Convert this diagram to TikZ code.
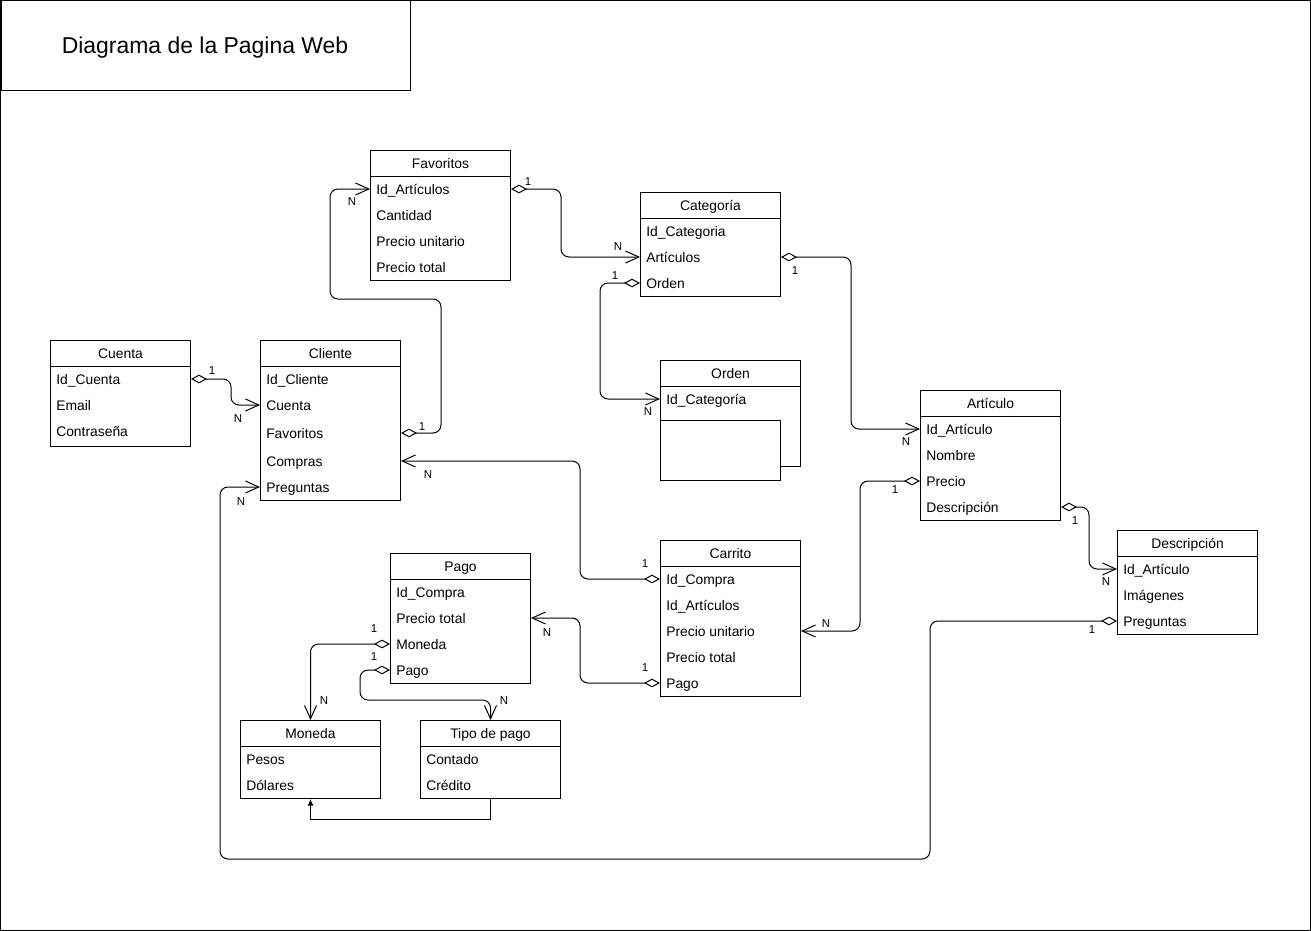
\documentclass[tikz,border=0pt]{standalone}
\usepackage{fontspec}
\setmainfont{Liberation Sans}
\usetikzlibrary{arrows.meta,calc}

% one drawing unit = one pixel of the 1311 x 931 canvas, y grows downwards
\tikzset{
  x=0.75pt, y=-0.75pt,
  ln/.style={line width=0.75pt},
  tbl/.style={ln, draw, fill=white, anchor=north west, inner sep=0pt},
  hdr/.style={font=\fontsize{10.4}{12}\selectfont, inner sep=0pt, text height=8.5pt, text depth=1pt},
  rowtxt/.style={font=\fontsize{10.4}{12}\selectfont, anchor=west, inner sep=0pt, text height=8.5pt, text depth=1pt},
  card/.style={font=\fontsize{8.6}{10}\selectfont, inner sep=0pt, text height=6.7pt, text depth=0.5pt},
  rel/.style={ln, rounded corners=6pt,
    arrows={Diamond[open,length=12pt,width=6.5pt]-Straight Barb[length=10pt,width=9pt]}},
  dep/.style={ln, -{Latex[length=5pt,width=4.5pt]}},
}

% table with a title band: name, x, y, width, height, title
\newcommand\ertab[6]{%
  \node[tbl, minimum width=#4*0.75pt, minimum height=#5*0.75pt] (#1) at (#2,#3) {};
  \draw[ln] ([yshift=-19.5pt]#1.north west) -- ([yshift=-19.5pt]#1.north east);
  \node[hdr] (#1-t) at ([yshift=-9.75pt]#1.north) {#6};
}

\begin{document}
\begin{tikzpicture}
\useasboundingbox (0,0) rectangle (1311,931);
\draw[ln] (0.5,0.5) rectangle (1310.5,930.5);

% title
\node[ln, draw, anchor=north west, minimum width=409.5*0.75pt, minimum height=90*0.75pt, inner sep=0pt] (title) at (0.5,0.5) {};
\node[font=\fontsize{17.2}{20}\selectfont, inner sep=0pt, text height=13pt, text depth=0.7pt] (title-t) at (205,45) {Diagrama de la Pagina Web};

% Favoritos
\ertab{fav}{370}{150}{140}{130}{Favoritos}
\node[rowtxt] (fav-1) at (376,189) {Id\_Artículos};
\node[rowtxt] (fav-2) at (376,215) {Cantidad};
\node[rowtxt] (fav-3) at (376,241) {Precio unitario};
\node[rowtxt] (fav-4) at (376,267) {Precio total};

% Categoría
\ertab{cat}{640}{192}{140}{104}{Categoría}
\node[rowtxt] (cat-1) at (646,231) {Id\_Categoria};
\node[rowtxt] (cat-2) at (646,257) {Artículos};
\node[rowtxt] (cat-3) at (646,283) {Orden};

% Cuenta
\ertab{cue}{50}{340}{140}{106}{Cuenta}
\node[rowtxt] (cue-1) at (56,379) {Id\_Cuenta};
\node[rowtxt] (cue-2) at (56,405) {Email};
\node[rowtxt] (cue-3) at (56,431) {Contraseña};

% Cliente
\ertab{cli}{260}{340}{140}{160}{Cliente}
\node[rowtxt] (cli-1) at (266,379) {Id\_Cliente};
\node[rowtxt] (cli-2) at (266,405) {Cuenta};
\node[rowtxt] (cli-3) at (266,433) {Favoritos};
\node[rowtxt] (cli-4) at (266,461) {Compras};
\node[rowtxt] (cli-5) at (266,487) {Preguntas};

% Orden
\ertab{ord}{660}{360}{140}{106}{Orden}
\node[rowtxt] (ord-1) at (666,399) {Id\_Categoría};
\node[tbl, minimum width=120*0.75pt, minimum height=60*0.75pt] (ordx) at (660,420) {};

% Artículo
\ertab{art}{920}{390}{140}{130}{Artículo}
\node[rowtxt] (art-1) at (926,429) {Id\_Artículo};
\node[rowtxt] (art-2) at (926,455) {Nombre};
\node[rowtxt] (art-3) at (926,481) {Precio};
\node[rowtxt] (art-4) at (926,507) {Descripción};

% Descripción
\ertab{des}{1117}{530}{140}{104}{Descripción}
\node[rowtxt] (des-1) at (1123,569) {Id\_Artículo};
\node[rowtxt] (des-2) at (1123,595) {Imágenes};
\node[rowtxt] (des-3) at (1123,621) {Preguntas};

% Pago
\ertab{pag}{390}{553}{140}{130}{Pago}
\node[rowtxt] (pag-1) at (396,592) {Id\_Compra};
\node[rowtxt] (pag-2) at (396,618) {Precio total};
\node[rowtxt] (pag-3) at (396,644) {Moneda};
\node[rowtxt] (pag-4) at (396,670) {Pago};

% Carrito
\ertab{car}{660}{540}{140}{156}{Carrito}
\node[rowtxt] (car-1) at (666,579) {Id\_Compra};
\node[rowtxt] (car-2) at (666,605) {Id\_Artículos};
\node[rowtxt] (car-3) at (666,631) {Precio unitario};
\node[rowtxt] (car-4) at (666,657) {Precio total};
\node[rowtxt] (car-5) at (666,683) {Pago};

% Moneda
\ertab{mon}{240}{720}{140}{78}{Moneda}
\node[rowtxt] (mon-1) at (246,759) {Pesos};
\node[rowtxt] (mon-2) at (246,785) {Dólares};

% Tipo de pago
\ertab{tip}{420}{720}{140}{78}{Tipo de pago}
\node[rowtxt] (tip-1) at (426,759) {Contado};
\node[rowtxt] (tip-2) at (426,785) {Crédito};

% relations
\draw[rel] (fav.east |- fav-1) -- ++(50,0) |- (cat.west |- cat-2);
\draw[rel] (cli.east |- cli-3) -- ++(40,0) |- (330,299) |- (fav.west |- fav-1);
\draw[rel] (cue.east |- cue-1) -- ++(40,0) |- (cli.west |- cli-2);
\draw[rel] (cat.west |- cat-3) -- ++(-40,0) |- (ord.west |- ord-1);
\draw[rel] (cat.east |- cat-2) -- ++(70,0) |- (art.west |- art-1);
\draw[rel] (art.east |- art-4) -- ++(28,0) |- (des.west |- des-1);
\draw[rel] (art.west |- art-3) -- ++(-60,0) |- (car.east |- car-3);
\draw[rel] (car.west |- car-1) -- ++(-80,0) |- (cli.east |- cli-4);
\draw[rel] (car.west |- car-5) -- ++(-80,0) |- (pag.east |- pag-2);
\draw[rel] (des.west |- des-3) -| (930,859) -| (220,487) -- (cli.west |- cli-5);
\draw[rel] (pag.west |- pag-3) -| (mon.north);
\draw[rel] (pag.west |- pag-4) -- ++(-30,0) |- (tip.north |- 0,700) -- (tip.north);
\draw[dep] (tip.south) -- ++(0,20) -| (mon.south);

% cardinalities
\node[card] (c1a) at (528,181) {1};
\node[card] (c1b) at (618,246) {N};
\node[card] (c2a) at (422,426) {1};
\node[card] (c2b) at (352,201) {N};
\node[card] (c3a) at (212,370) {1};
\node[card] (c3b) at (238,418) {N};
\node[card] (c4a) at (615,275) {1};
\node[card] (c4b) at (648,411) {N};
\node[card] (c5a) at (795,270) {1};
\node[card] (c5b) at (906,441) {N};
\node[card] (c6a) at (1075,520) {1};
\node[card] (c6b) at (1106,581) {N};
\node[card] (c7a) at (895,489) {1};
\node[card] (c7b) at (826,623) {N};
\node[card] (c8a) at (645,563) {1};
\node[card] (c8b) at (428,474) {N};
\node[card] (c9a) at (645,667) {1};
\node[card] (c9b) at (547,632) {N};
\node[card] (c10a) at (1092,629) {1};
\node[card] (c10b) at (241,501) {N};
\node[card] (c11a) at (374,628) {1};
\node[card] (c11b) at (324,700) {N};
\node[card] (c12a) at (374,656) {1};
\node[card] (c12b) at (504,700) {N};
\end{tikzpicture}
\end{document}
